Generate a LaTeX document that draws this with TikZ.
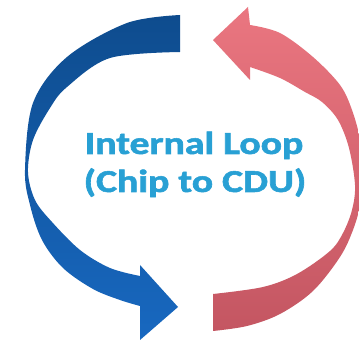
\documentclass[tikz,border=0pt]{standalone}
\usepackage{fontspec}
\setmainfont{Carlito}[BoldFeatures={FakeBold=1.6}]
\definecolor{bluetop}{RGB}{14,76,142}
\definecolor{bluebot}{RGB}{24,104,192}
\definecolor{redtop}{RGB}{234,118,128}
\definecolor{redbot}{RGB}{196,86,98}
\definecolor{loopblue}{RGB}{40,160,212}
\tikzset{
  looptext/.style={anchor=base, inner sep=0pt, text=loopblue,
    font=\fontsize{32}{38}\selectfont\bfseries},
  curve/.style={smooth, tension=0.55}
}
\begin{document}
\begin{tikzpicture}[x=1pt,y=-1pt]
\useasboundingbox[fill=white] (0,0) rectangle (359,347);

% blue arrow: from the top, round the left side, pointing right at the bottom
\shade[top color=bluetop, bottom color=bluebot]
  plot[curve] coordinates {(180,15) (127,23) (67,57) (33,103) (25,170)
    (30,205) (42,240) (63,268) (93,289) (120,300) (140,306)}
  -- (140,340) -- (178,307) -- (140,265) --
  plot[curve] coordinates {(140,276) (110,268) (80,250) (52,222) (35,200)
    (28,172) (33,140) (50,108) (67,87) (110,58) (180,52)}
  -- cycle;

% red arrow: from the bottom, round the right side, pointing left at the top
\shade[top color=redtop, bottom color=redbot]
  plot[curve] coordinates {(213,331) (247,326) (280,314) (313,291) (340,257)
    (353,230) (360,205) (362,175) (360,140) (352,110) (340,85) (313,57)
    (280,33) (250,25)}
  -- (248,7) -- (213,40) -- (250,80) --
  plot[curve] coordinates {(250,67) (280,78) (305,92) (322,102) (338,120)
    (349,148) (355,185) (352,210) (343,233) (330,251) (297,274) (263,287)
    (213,294)}
  -- cycle;

\node[looptext] (title) at (194,154) {\scalebox{1.24}[1]{Internal Loop}};
\node[looptext] (subtitle) at (195,192) {\scalebox{1.24}[1]{(Chip to CDU)}};
\end{tikzpicture}
\end{document}
